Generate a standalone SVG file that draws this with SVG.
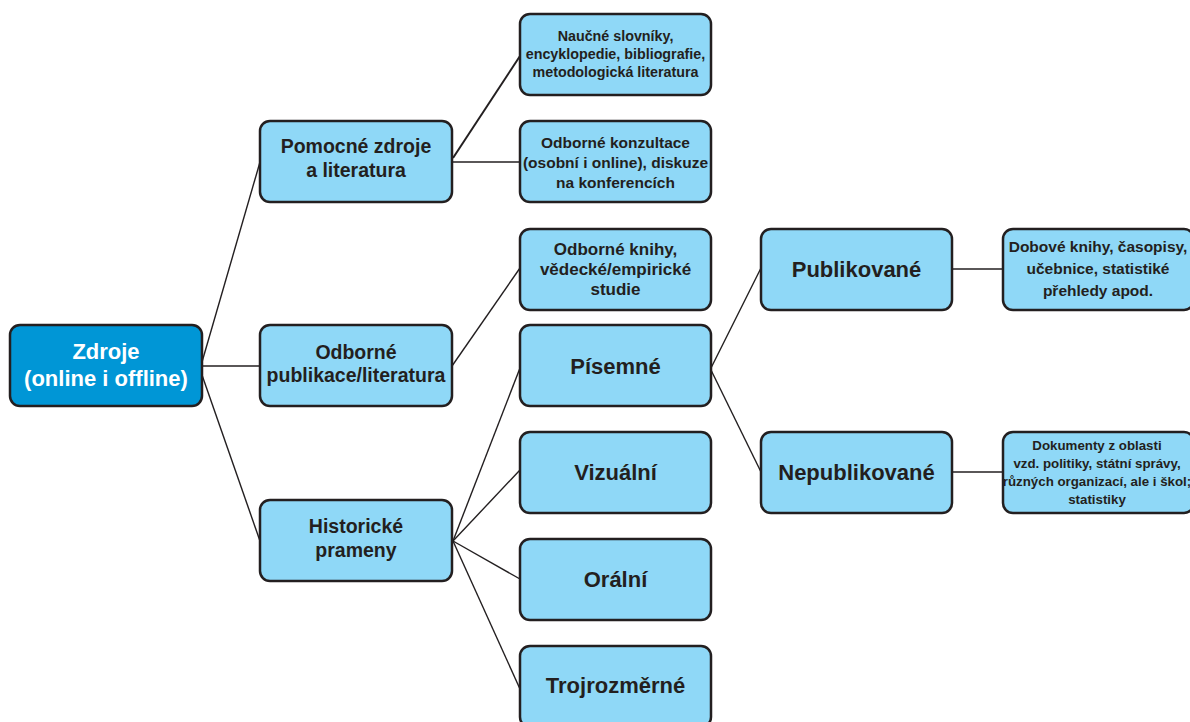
<svg xmlns="http://www.w3.org/2000/svg" width="1190" height="722" viewBox="0 0 1190 722">
<style>
.box{fill:#8fd8f7;stroke:#231f20;stroke-width:2.5}
.root{fill:#0096d6;stroke:#231f20;stroke-width:2.5}
text{font-family:"Liberation Sans",Arial,sans-serif;font-weight:bold;fill:#231f20;text-anchor:middle}
.w{fill:#ffffff}
.f22{font-size:22px}
.f19{font-size:19.5px}
.f17{font-size:17px}
.f155{font-size:15.5px}
.f14{font-size:14.3px}
.f13{font-size:13.3px}
.c{stroke:#231f20;stroke-width:1.4;fill:none}
</style>
<rect width="1190" height="722" fill="#ffffff"/>
<g id="connectors">
<line class="c" x1="202" y1="362" x2="260" y2="162"/>
<line class="c" x1="202" y1="366" x2="260" y2="366"/>
<line class="c" x1="202" y1="375" x2="260" y2="541"/>
<line class="c" x1="453" y1="158" x2="520" y2="56" style="stroke-width:2"/>
<line class="c" x1="453" y1="162" x2="520" y2="162"/>
<line class="c" x1="452" y1="366" x2="520" y2="268"/>
<line class="c" x1="453" y1="541" x2="520" y2="368"/>
<line class="c" x1="453" y1="541" x2="520" y2="470"/>
<line class="c" x1="453" y1="541" x2="520" y2="579"/>
<line class="c" x1="453" y1="541" x2="520" y2="689"/>
<line class="c" x1="711" y1="368" x2="761" y2="268"/>
<line class="c" x1="711" y1="370" x2="761" y2="472"/>
<line class="c" x1="952" y1="269" x2="1003" y2="269"/>
<line class="c" x1="952" y1="472" x2="1003" y2="472"/>
</g>
<g id="zdroje">
<rect class="root" x="10" y="325" width="192" height="81" rx="10"/>
<text class="f22 w" x="106" y="359">Zdroje</text>
<text class="f22 w" x="106" y="386">(online i offline)</text>
</g>
<g id="pomocne">
<rect class="box" x="260" y="121" width="192" height="81" rx="10"/>
<text class="f19" x="356" y="153">Pomocné zdroje</text>
<text class="f19" x="356" y="177">a literatura</text>
</g>
<g id="odborne-publikace">
<rect class="box" x="260" y="325" width="192" height="81" rx="10"/>
<text class="f19" x="356" y="359">Odborné</text>
<text class="f19" x="356" y="382">publikace/literatura</text>
</g>
<g id="historicke">
<rect class="box" x="260" y="500" width="192" height="81" rx="10"/>
<text class="f19" x="356" y="533">Historické</text>
<text class="f19" x="356" y="557">prameny</text>
</g>
<g id="naucne">
<rect class="box" x="520" y="14" width="191" height="81" rx="10"/>
<text class="f14" x="615.5" y="41">Naučné slovníky,</text>
<text class="f14" x="615.5" y="59">encyklopedie, bibliografie,</text>
<text class="f14" x="615.5" y="77">metodologická literatura</text>
</g>
<g id="konzultace">
<rect class="box" x="520" y="121" width="191" height="81" rx="10"/>
<text class="f155" x="615.5" y="148">Odborné konzultace</text>
<text class="f155" x="615.5" y="168">(osobní i online), diskuze</text>
<text class="f155" x="615.5" y="188">na konferencích</text>
</g>
<g id="knihy">
<rect class="box" x="520" y="229" width="191" height="81" rx="10"/>
<text class="f17" x="615.5" y="255">Odborné knihy,</text>
<text class="f17" x="615.5" y="275">vědecké/empirické</text>
<text class="f17" x="615.5" y="295">studie</text>
</g>
<g id="pisemne">
<rect class="box" x="520" y="325" width="191" height="81" rx="10"/>
<text class="f22" x="615.5" y="374">Písemné</text>
</g>
<g id="vizualni">
<rect class="box" x="520" y="432" width="191" height="81" rx="10"/>
<text class="f22" x="615.5" y="480">Vizuální</text>
</g>
<g id="oralni">
<rect class="box" x="520" y="539" width="191" height="81" rx="10"/>
<text class="f22" x="615.5" y="587">Orální</text>
</g>
<g id="trojrozmerne">
<rect class="box" x="520" y="646" width="191" height="81" rx="10"/>
<text class="f22" x="615.5" y="693">Trojrozměrné</text>
</g>
<g id="publikovane">
<rect class="box" x="761" y="229" width="191" height="81" rx="10"/>
<text class="f22" x="856.5" y="277">Publikované</text>
</g>
<g id="nepublikovane">
<rect class="box" x="761" y="432" width="191" height="81" rx="10"/>
<text class="f22" x="856.5" y="480">Nepublikované</text>
</g>
<g id="dobove">
<rect class="box" x="1003" y="229" width="191" height="81" rx="10"/>
<text class="f155" x="1098" y="252">Dobové knihy, časopisy,</text>
<text class="f155" x="1098" y="274">učebnice, statistiké</text>
<text class="f155" x="1098" y="296">přehledy apod.</text>
</g>
<g id="dokumenty">
<rect class="box" x="1003" y="432" width="191" height="81" rx="10"/>
<text class="f13" x="1097" y="450">Dokumenty z oblasti</text>
<text class="f13" x="1097" y="468">vzd. politiky, státní správy,</text>
<text class="f13" x="1097" y="486">různých organizací, ale i škol;</text>
<text class="f13" x="1097" y="504">statistiky</text>
</g>
</svg>
